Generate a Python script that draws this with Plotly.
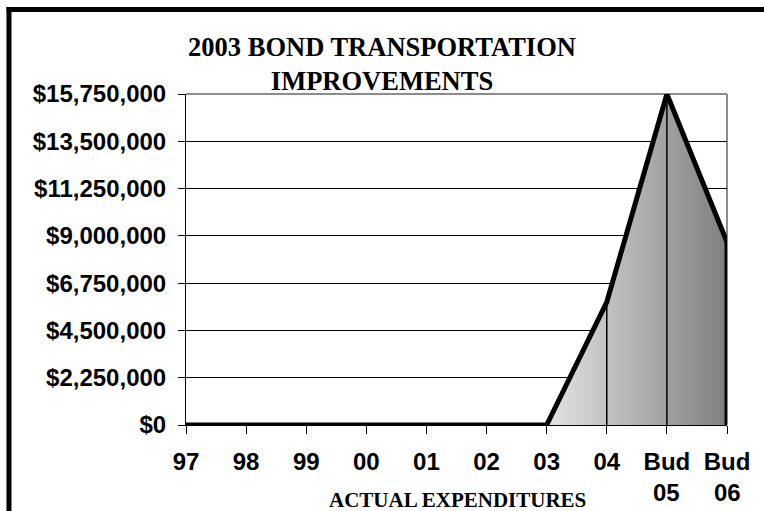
import plotly.graph_objects as go

# ---- data ----
categories = ["97", "98", "99", "00", "01", "02", "03", "04", "Bud 05", "Bud 06"]
tick_top = ["97", "98", "99", "00", "01", "02", "03", "04", "Bud", "Bud"]
tick_bottom = ["", "", "", "", "", "", "", "", "05", "06"]
values = [0, 0, 0, 0, 0, 0, 0, 5850000, 15750000, 8700000]
y_max = 15750000
y_step = 2250000
title_text = "2003 BOND TRANSPORTATION<br>IMPROVEMENTS"
x_title = "ACTUAL EXPENDITURES"

# ---- layout geometry ----
W, H = 764, 511
L, R, T, B = 186, 37, 94, 86
pw, ph = W - L - R, H - T - B


def px_x(px):
    return (px - L) / pw


def px_y(py):
    return (H - B - py) / ph


fig = go.Figure()

# gradient filled area (from last zero point onward)
first = next(i for i, v in enumerate(values) if v > 0) - 1
fig.add_trace(go.Scatter(
    x=categories[first:], y=values[first:], mode="lines",
    line=dict(width=0), fill="tozeroy",
    fillgradient=dict(type="horizontal",
                      colorscale=[[0, "#e4e4e4"], [1, "#7f7f7f"]]),
    hoverinfo="skip", showlegend=False))

# drop lines at interior positive points
dx, dy = [], []
for i in range(first + 1, len(values) - 1):
    dx += [categories[i], categories[i], None]
    dy += [0, values[i], None]
fig.add_trace(go.Scatter(x=dx, y=dy, mode="lines",
                         line=dict(color="black", width=1.5),
                         hoverinfo="skip", showlegend=False))

# main outline
fig.add_trace(go.Scatter(
    x=categories + [categories[-1]], y=values + [0], mode="lines",
    line=dict(color="black", width=5, shape="linear"),
    hoverinfo="skip", showlegend=False))

tick_font = dict(family="Liberation Sans", size=24, color="black", weight="bold")

fig.update_xaxes(
    type="category", categoryorder="array", categoryarray=categories,
    range=[0, len(categories) - 1],
    tickmode="array", tickvals=categories, ticktext=tick_top,
    ticks="outside", ticklen=8, tickcolor="black", tickwidth=1,
    tickfont=tick_font, showgrid=False, showline=True,
    linecolor="black", linewidth=1, zeroline=False,
    ticklabelstandoff=7)

fig.update_yaxes(
    range=[0, y_max], dtick=y_step, tick0=0, tickformat="$,.0f",
    ticks="outside", ticklen=7, tickcolor="black", tickwidth=1,
    tickfont=tick_font, showgrid=True, gridcolor="black", gridwidth=1,
    showline=True, linecolor="black", linewidth=1, zeroline=False,
    ticklabelstandoff=7)

annotations = []
for c, b in zip(categories, tick_bottom):
    if b:
        annotations.append(dict(x=c, xref="x", y=px_y(492), yref="paper",
                                text=b, showarrow=False, yanchor="middle",
                                font=tick_font))
annotations.append(dict(x=px_x(457), xref="paper", y=px_y(500), yref="paper",
                        text=x_title, showarrow=False, yanchor="middle",
                        font=dict(family="Liberation Serif", size=21,
                                  color="black", weight="bold")))

shapes = [
    # grey plot-area border top/right
    dict(type="line", xref="paper", yref="paper", x0=0, x1=1, y0=1, y1=1,
         line=dict(color="#8c8c8c", width=2), layer="between"),
    dict(type="line", xref="paper", yref="paper", x0=1, x1=1, y0=0, y1=1,
         line=dict(color="#8c8c8c", width=2), layer="between"),
    # outer black frame (left + top)
    dict(type="line", xref="paper", yref="paper",
         x0=px_x(9), x1=px_x(9), y0=px_y(7), y1=px_y(530),
         line=dict(color="black", width=5)),
    dict(type="line", xref="paper", yref="paper",
         x0=px_x(6.5), x1=px_x(790), y0=px_y(9.5), y1=px_y(9.5),
         line=dict(color="black", width=5)),
]

fig.update_layout(
    width=W, height=H,
    margin=dict(l=L, r=R, t=T, b=B, pad=0),
    paper_bgcolor="white", plot_bgcolor="white",
    title=dict(text=title_text, x=0.5, xanchor="center",
               y=1 - 56 / H, yanchor="top", yref="container",
               font=dict(family="Liberation Serif", size=26.5, color="black",
                         weight="bold")),
    annotations=annotations, shapes=shapes, showlegend=False)

fig.write_html("out.html")
